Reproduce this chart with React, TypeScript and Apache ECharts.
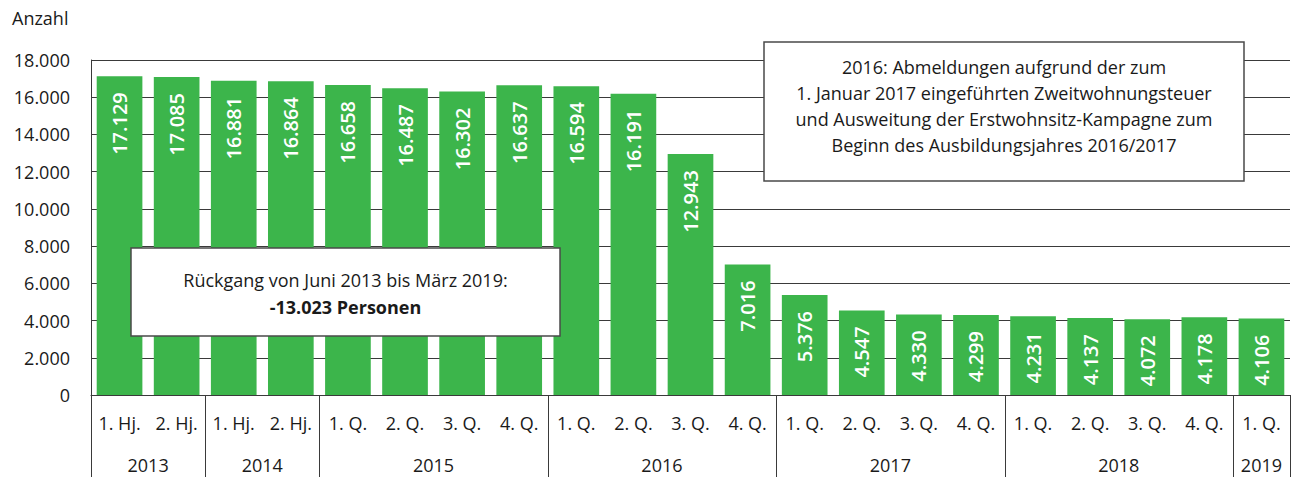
import React, { useEffect, useRef } from "react";
import * as echarts from "echarts";

const periodLabels = [
  "1. Hj.", "2. Hj.",
  "1. Hj.", "2. Hj.",
  "1. Q.", "2. Q.", "3. Q.", "4. Q.",
  "1. Q.", "2. Q.", "3. Q.", "4. Q.",
  "1. Q.", "2. Q.", "3. Q.", "4. Q.",
  "1. Q.", "2. Q.", "3. Q.", "4. Q.",
  "1. Q.",
];
const periodYears = [
  "2013", "2013",
  "2014", "2014",
  "2015", "2015", "2015", "2015",
  "2016", "2016", "2016", "2016",
  "2017", "2017", "2017", "2017",
  "2018", "2018", "2018", "2018",
  "2019",
];
const values = [
  17129, 17085,
  16881, 16864,
  16658, 16487, 16302, 16637,
  16594, 16191, 12943, 7016,
  5376, 4547, 4330, 4299,
  4231, 4137, 4072, 4178,
  4106,
];
const yearGroups = ["2013", "2014", "2015", "2016", "2017", "2018", "2019"];
const yearSpans = [2, 2, 4, 4, 4, 4, 1];
const yMin = 0;
const yMax = 18000;
const yInterval = 2000;
const yTitle = "Anzahl";
const note1Line1 = "Rückgang von Juni 2013 bis März 2019:";
const note1Line2 = "-13.023 Personen";
const note2Lines = [
  "2016: Abmeldungen aufgrund der zum",
  "1. Januar 2017 eingeführten Zweitwohnungsteuer",
  "und Ausweitung der Erstwohnsitz-Kampagne zum",
  "Beginn des Ausbildungsjahres 2016/2017",
];

const FONT = "'Open Sans', 'Noto Sans', sans-serif";
const TEXT = "#1a1a1a";
const LINE = "#3a3a3a";
const GREEN = "#3cb54b";

function fmt(v: number): string {
  const s = String(Math.round(v));
  return s.replace(/\B(?=(\d{3})+(?!\d))/g, ".");
}

export default function App() {
  const ref = useRef<HTMLDivElement>(null);

  useEffect(() => {
    if (!ref.current) return;
    const chart = echarts.init(ref.current, null, { renderer: "svg" });
    const keys = periodLabels.map((l, i) => periodYears[i] + " " + i + "|" + l);
    const option: any = {
      animation: false,
      textStyle: { fontFamily: FONT },
      grid: { left: 91, right: 10, top: 60, bottom: 82, containLabel: false },
      xAxis: {
        type: "category",
        data: keys,
        axisLine: { show: true, lineStyle: { color: LINE, width: 1 } },
        axisTick: { show: false },
        axisLabel: {
          formatter: (v: string) => v.split("|")[1],
          color: TEXT,
          fontSize: 18,
          fontFamily: FONT,
          margin: 19,
          interval: 0,
        },
        splitLine: { show: false },
      },
      yAxis: {
        type: "value",
        min: yMin,
        max: yMax,
        interval: yInterval,
        axisLine: { show: true, lineStyle: { color: LINE, width: 1 } },
        axisTick: { show: false },
        axisLabel: {
          formatter: (v: number) => fmt(v),
          color: TEXT,
          fontSize: 18,
          fontFamily: FONT,
          margin: 21,
        },
        splitLine: { show: true, lineStyle: { color: LINE, width: 1 } },
      },
      series: [
        {
          type: "bar",
          data: values,
          barCategoryGap: "20%",
          itemStyle: { color: GREEN },
          label: {
            show: true,
            position: "insideTop",
            rotate: 90,
            align: "right",
            verticalAlign: "middle",
            distance: 16,
            color: "#ffffff",
            fontSize: 20,
            fontWeight: 600,
            fontFamily: FONT,
            formatter: (p: any) => fmt(p.value),
          },
        },
      ],
    };
    chart.setOption(option);

    const px = (i: number) => chart.convertToPixel({ xAxisIndex: 0 }, i) as number;
    const band = px(1) - px(0);
    const graphics: any[] = [];
    const sepTop = 395;
    const sepBottom = 477;
    let start = 0;
    const boundaries: number[] = [px(0) - band / 2];
    yearGroups.forEach((yr, g) => {
      const span = yearSpans[g];
      const left = px(start) - band / 2;
      const right = px(start + span - 1) + band / 2;
      boundaries.push(right);
      graphics.push({
        type: "text",
        x: (left + right) / 2,
        y: 465,
        style: {
          text: yr,
          fill: TEXT,
          fontSize: 18,
          fontFamily: FONT,
          align: "center",
          verticalAlign: "middle",
        },
      });
      start += span;
    });
    boundaries.forEach((bx) => {
      const x = Math.round(bx) + 0.5;
      graphics.push({
        type: "line",
        shape: { x1: x, y1: sepTop, x2: x, y2: sepBottom },
        style: { stroke: LINE, lineWidth: 1 },
      });
    });

    graphics.push({
      type: "text",
      x: 12,
      y: 18,
      style: {
        text: yTitle,
        fill: TEXT,
        fontSize: 18,
        fontFamily: FONT,
        align: "left",
        verticalAlign: "middle",
      },
    });

    // Box 1
    graphics.push({
      type: "rect",
      z: 100,
      shape: { x: 131, y: 248, width: 429, height: 88 },
      style: { fill: "#ffffff", stroke: "#4a4a4a", lineWidth: 1.5 },
    });
    graphics.push({
      type: "text",
      z: 101,
      x: 345.5,
      y: 280,
      style: {
        text: note1Line1,
        fill: TEXT,
        fontSize: 18,
        fontFamily: FONT,
        align: "center",
        verticalAlign: "middle",
      },
    });
    graphics.push({
      type: "text",
      z: 101,
      x: 345.5,
      y: 307,
      style: {
        text: note1Line2,
        fill: TEXT,
        fontSize: 18,
        fontWeight: "bold",
        fontFamily: FONT,
        align: "center",
        verticalAlign: "middle",
      },
    });

    // Box 2
    graphics.push({
      type: "rect",
      z: 100,
      shape: { x: 764, y: 42, width: 480, height: 139 },
      style: { fill: "#ffffff", stroke: "#4a4a4a", lineWidth: 1.5 },
    });
    graphics.push({
      type: "text",
      z: 101,
      x: 1004,
      y: 106,
      style: {
        text: note2Lines.join("\n"),
        fill: TEXT,
        fontSize: 18,
        lineHeight: 26,
        fontFamily: FONT,
        align: "center",
        verticalAlign: "middle",
      },
    });

    chart.setOption({ graphic: graphics });
    return () => chart.dispose();
  }, []);

  return (
    <div
      ref={ref}
      style={{ position: "fixed", left: 0, top: 0, width: 1300, height: 477, background: "#ffffff" }}
    />
  );
}
